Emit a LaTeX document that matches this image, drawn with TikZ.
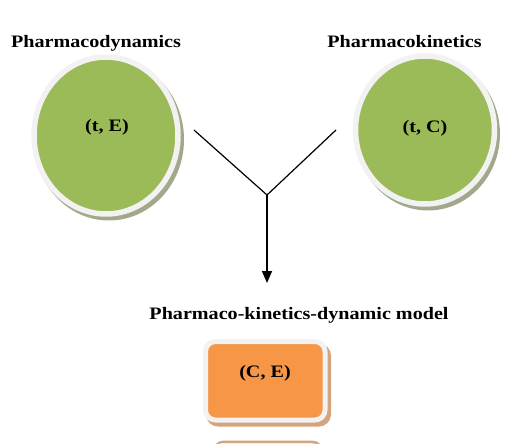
\documentclass[tikz,border=0pt]{standalone}
\usepackage{fontspec}
\setmainfont{Liberation Serif}[FakeStretch=1.15]
\usetikzlibrary{shapes.geometric,arrows.meta}
\definecolor{leaf}{HTML}{9BBB59}
\definecolor{leafshade}{HTML}{A2A98B}
\definecolor{peach}{HTML}{F79646}
\definecolor{peachshade}{HTML}{D3A47D}
\definecolor{rim}{HTML}{F2F2F2}
\tikzset{
	disc/.style={ellipse, fill=leaf, draw=rim, line width=5.5pt, inner sep=0pt},
	discshade/.style={ellipse, fill=leafshade, inner sep=0pt},
	card/.style={rectangle, rounded corners=10pt, fill=peach, draw=rim, line width=5pt, inner sep=0pt},
	cardshade/.style={rectangle, rounded corners=12pt, fill=peachshade, inner sep=0pt},
	head/.style={font=\bfseries\fontsize{17.5}{20}\selectfont, anchor=base, inner sep=0pt}
}
\begin{document}
\begin{tikzpicture}[x=1pt, y=-1pt, line join=round, >={Triangle[length=12pt,width=10pt]}]
				\useasboundingbox (0,0) rectangle (522,444);
				\clip (0,0) rectangle (522,444);
				% titles
				\node[head] (dyntitle) at (96,48) {Pharmacodynamics};
				\node[head] (kintitle) at (404.5,48) {Pharmacokinetics};
				\node[head] (modtitle) at (299,319) {Pharmaco-kinetics-dynamic model};
				% the two discs
				\node[discshade, minimum width=150pt, minimum height=162pt] (dynshade) at (109,139.5) {};
				\node[disc, minimum width=144pt, minimum height=157pt] (dyn) at (106,135.5) {};
				\node[discshade, minimum width=144pt, minimum height=153pt] (kinshade) at (428,134) {};
				\node[disc, minimum width=139pt, minimum height=148pt] (kin) at (425,130) {};
				\node[head] (dynlbl) at (107,131) {(t, E)};
				\node[head] (kinlbl) at (425,132) {(t, C)};
				% the model card
				\node[cardshade, minimum width=125pt, minimum height=83pt] (modshade) at (268.5,385) {};
				\node[card, minimum width=119.5pt, minimum height=78.5pt] (mod) at (265.25,380.75) {};
				\node[head] (modlbl) at (265,377) {(C, E)};
				% the next card, cut off at the bottom
				\node[cardshade, minimum width=112pt, minimum height=83pt] (nextshade) at (268,482) {};
				\node[card, fill=rim, minimum width=108pt, minimum height=78pt] (next) at (267,484.5) {};
				% connectors
				\foreach \p/\x/\y in {dynend/194/130, kinend/336/130, join/267/195, tip/267/283}
				\coordinate (\p) at (\x,\y);
				\draw[line width=1.2pt] (dynend) -- (join) -- (kinend);
				\draw[line width=1.6pt, ->] (join) -- (tip);
			\end{tikzpicture}
\end{document}
